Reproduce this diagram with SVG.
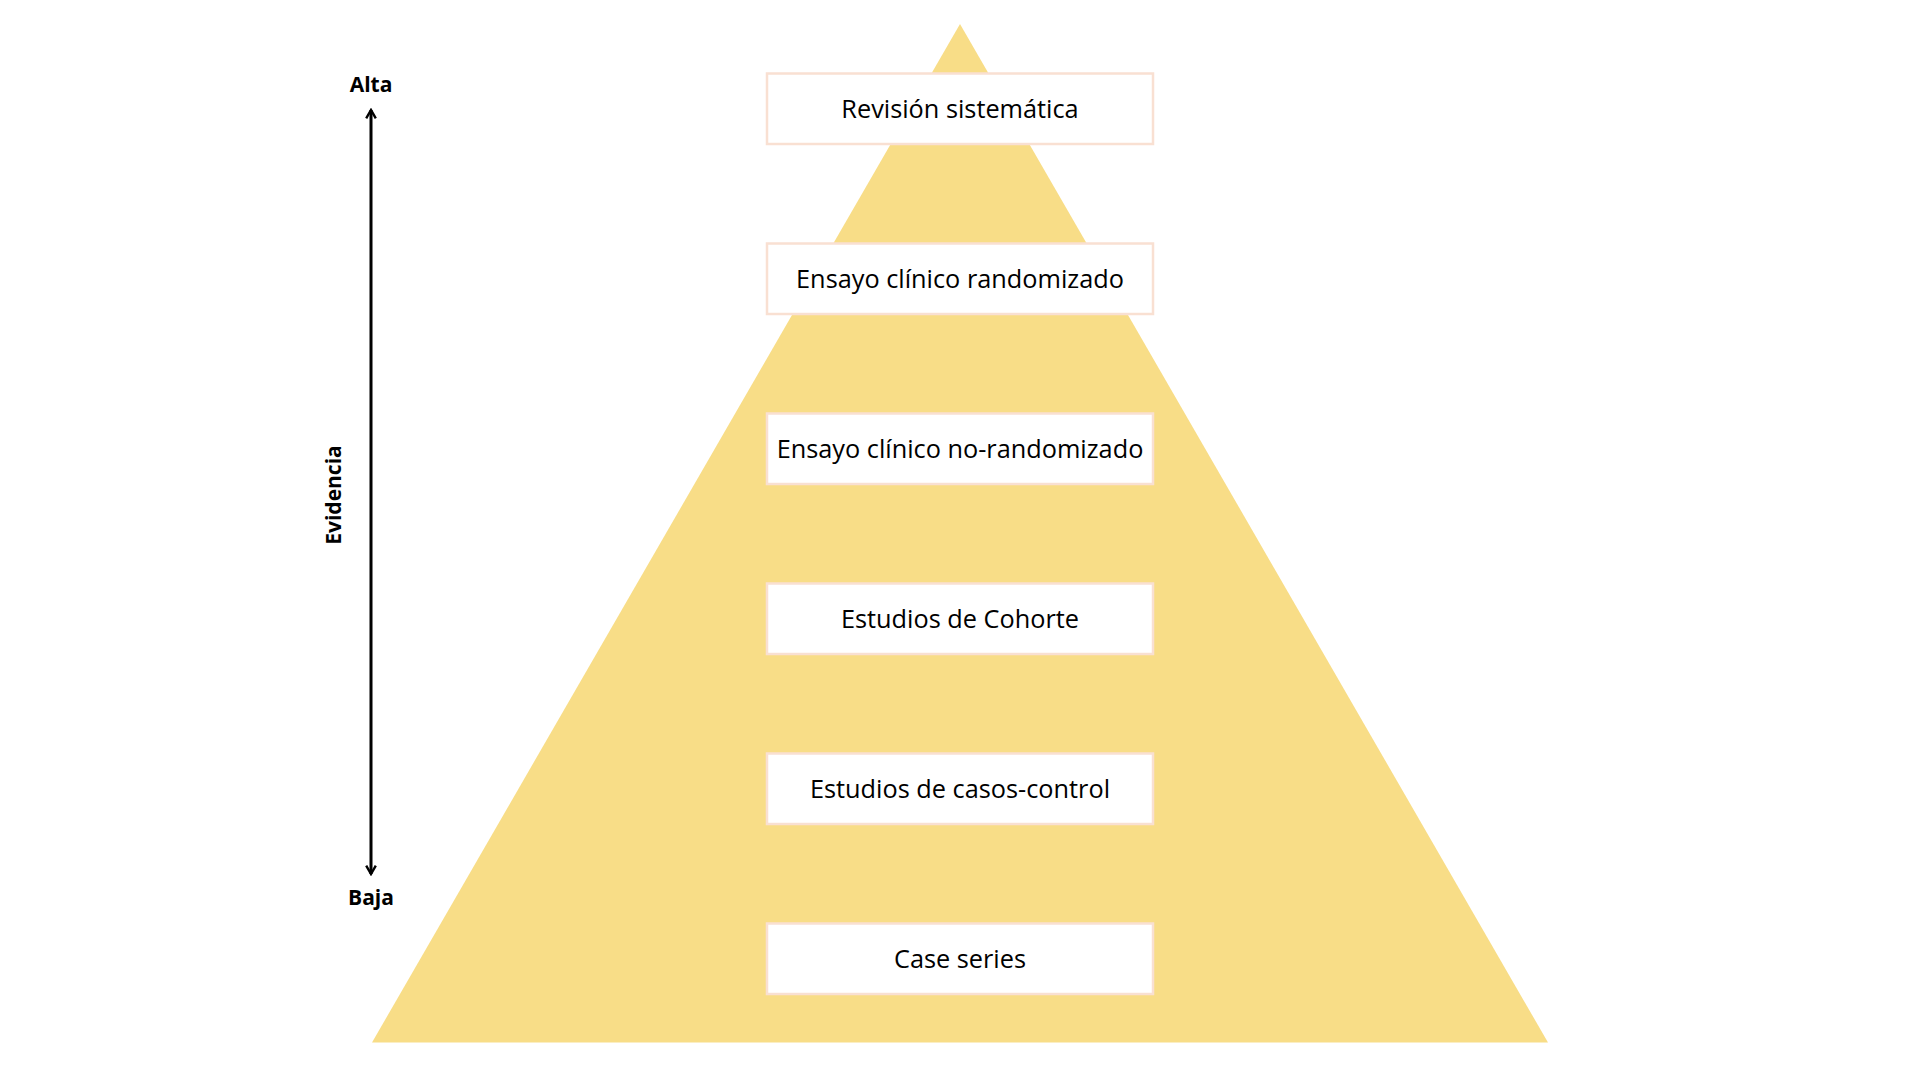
<svg xmlns="http://www.w3.org/2000/svg" width="1920" height="1080" viewBox="0 0 1920 1080">
<style>
.box{fill:#ffffff;stroke:#f9e0d2;stroke-width:2.5}
.lbl{font-family:"Open Sans","Noto Sans",sans-serif;font-size:25.3px;fill:#000;text-anchor:middle}
.ax{font-family:"Open Sans","Noto Sans",sans-serif;font-size:21px;font-weight:bold;fill:#000;text-anchor:middle}
</style>
<defs>
<marker id="ah" viewBox="0 0 10 10" refX="8" refY="5" markerWidth="4" markerHeight="4" orient="auto-start-reverse" markerUnits="strokeWidth">
<path d="M1,1 L8,5 L1,9" fill="none" stroke="#000" stroke-width="2"/>
</marker>
</defs>
<rect width="1920" height="1080" fill="#ffffff"/>
<polygon id="pyramid" points="960,24 1548,1042.5 372,1042.5" fill="#f8dd87"/>
<g id="connectors">
<line x1="371" y1="874" x2="371" y2="110" stroke="#000" stroke-width="3" marker-end="url(#ah)" marker-start="url(#ah)"/>
</g>
<g id="axis-labels">
<text class="ax" x="371" y="91.5">Alta</text>
<text class="ax" x="371" y="905">Baja</text>
<text class="ax" transform="translate(341,495) rotate(-90)" x="0" y="0">Evidencia</text>
</g>
<g id="n1"><rect class="box" x="767" y="73.5" width="386" height="70.5"/><text class="lbl" x="960" y="117.8">Revisión sistemática</text></g>
<g id="n2"><rect class="box" x="767" y="243.5" width="386" height="70.5"/><text class="lbl" x="960" y="287.8">Ensayo clínico randomizado</text></g>
<g id="n3"><rect class="box" x="767" y="413.5" width="386" height="70.5"/><text class="lbl" x="960" y="457.8">Ensayo clínico no-randomizado</text></g>
<g id="n4"><rect class="box" x="767" y="583.5" width="386" height="70.5"/><text class="lbl" x="960" y="627.8">Estudios de Cohorte</text></g>
<g id="n5"><rect class="box" x="767" y="753.5" width="386" height="70.5"/><text class="lbl" x="960" y="797.8">Estudios de casos-control</text></g>
<g id="n6"><rect class="box" x="767" y="923.5" width="386" height="70.5"/><text class="lbl" x="960" y="967.8">Case series</text></g>
</svg>
